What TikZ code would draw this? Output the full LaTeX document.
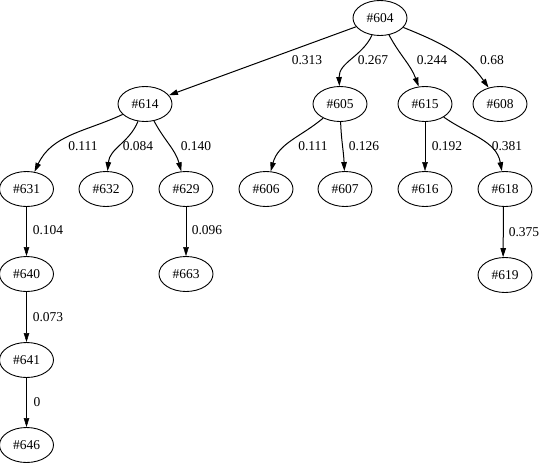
\documentclass[tikz,border=0pt]{standalone}
\usepackage{fontspec}
\setmainfont{Liberation Serif}
\usetikzlibrary{arrows.meta,shapes.geometric}
\begin{document}
\begin{tikzpicture}[x=1pt,y=-1pt,
  nd/.style={draw,ellipse,line width=0.9pt,minimum width=54pt,minimum height=35pt,inner sep=0pt,font=\fontsize{13.5}{16}\selectfont},
  lbl/.style={inner sep=0pt,font=\fontsize{13.5}{16}\selectfont},
  thk/.style={line width=1pt,-{Triangle[length=9pt,width=5.5pt]}},
  thn/.style={line width=0.45pt,-{Triangle[length=9pt,width=5.5pt]}}]
\useasboundingbox (0,0) rectangle (551,464);
\node[nd] (n604) at (380,18) {\#604};
\node[nd] (n614) at (145,104) {\#614};
\node[nd] (n605) at (340,104) {\#605};
\node[nd] (n615) at (425,104) {\#615};
\node[nd] (n608) at (500,104) {\#608};
\node[nd] (n631) at (26.5,189) {\#631};
\node[nd] (n632) at (106,189) {\#632};
\node[nd] (n629) at (186,189) {\#629};
\node[nd] (n606) at (266,189) {\#606};
\node[nd] (n607) at (345,189) {\#607};
\node[nd] (n616) at (425,189) {\#616};
\node[nd] (n618) at (505,189) {\#618};
\node[nd] (n640) at (26.5,274) {\#640};
\node[nd] (n663) at (186,274) {\#663};
\node[nd] (n619) at (505,275) {\#619};
\node[nd] (n641) at (26.5,360) {\#641};
\node[nd] (n646) at (26.5,445) {\#646};

\draw[thk] (n604) -- (n614);
\draw[thk] (n604) to[out=-115,in=92] (n605);
\draw[thk] (n604) to[out=-62,in=110] (n615);
\draw[thk] (n604) to[out=-22,in=125] (n608);
\draw[thk] (n614) to[out=-155,in=65] (n631);
\draw[thk] (n614) to[out=-112,in=85] (n632);
\draw[thk] (n614) to[out=-62,in=105] (n629);
\draw[thk] (n605) to[out=-140,in=75] (n606);
\draw[thk] (n605) to[out=-88,in=92] (n607);
\draw[thn] (n615) -- (n616);
\draw[thk] (n615) to[out=-35,in=100] (n618);
\draw[thn] (n631) -- (n640);
\draw[thn] (n629) -- (n663);
\draw[thk] (n618.-95) -- (n619.96);
\draw[thn] (n640) -- (n641);
\draw[thn] (n641) -- (n646);

\node[lbl] (l1) at (307,60) {0.313};
\node[lbl] (l2) at (373,60) {0.267};
\node[lbl] (l3) at (432,60) {0.244};
\node[lbl] (l4) at (492,60) {0.68};
\node[lbl] (l5) at (83,146) {0.111};
\node[lbl] (l6) at (138,146) {0.084};
\node[lbl] (l7) at (196,146) {0.140};
\node[lbl] (l8) at (313,146) {0.111};
\node[lbl] (l9) at (364,146) {0.126};
\node[lbl] (l10) at (447,146) {0.192};
\node[lbl] (l11) at (507,146) {0.381};
\node[lbl] (l12) at (48,230) {0.104};
\node[lbl] (l13) at (207,230) {0.096};
\node[lbl] (l14) at (524,232) {0.375};
\node[lbl] (l15) at (48,317) {0.073};
\node[lbl] (l16) at (37,402) {0};
\end{tikzpicture}
\end{document}
